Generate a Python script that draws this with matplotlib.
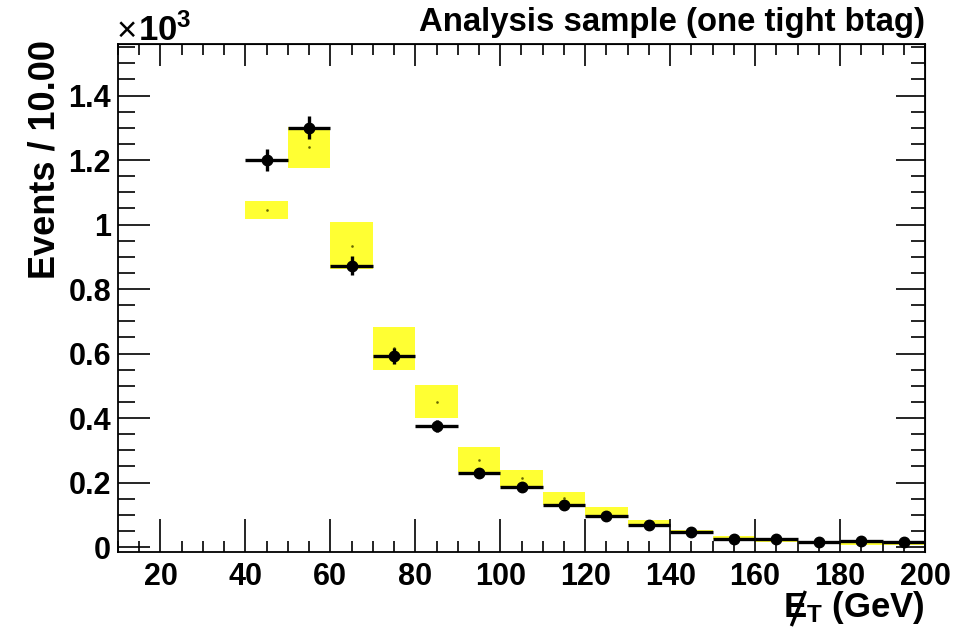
import numpy as np
import matplotlib
matplotlib.use("Agg")
import matplotlib.pyplot as plt
from matplotlib.lines import Line2D
from matplotlib.ticker import MultipleLocator, FuncFormatter

# Missing-ET distribution, 10 GeV bins from 40 to 200 GeV
bin_low = [40, 50, 60, 70, 80, 90, 100, 110, 120, 130, 140, 150, 160, 170, 180, 190]
bin_width = 10
data_counts = [1200, 1301, 872, 592, 375, 230, 187, 130, 97, 68, 45, 24, 24, 15, 19, 15]
# prediction: central value and half-size of the uncertainty band
pred_center = [1045, 1240, 935, 616, 451, 271, 213, 151, 110, 76, 49, 29, 19, 12, 10, 8]
pred_halfwidth = [29, 64, 74, 67, 52, 38, 26, 20, 14, 9, 5, 5, 5, 3, 3, 2]

family = "Liberation Sans"
plt.rcParams["font.family"] = [family, "DejaVu Sans"]
plt.rcParams["font.weight"] = "bold"
plt.rcParams["mathtext.fontset"] = "custom"
plt.rcParams["mathtext.rm"] = family + ":bold"
plt.rcParams["mathtext.bf"] = family + ":bold"
plt.rcParams["mathtext.it"] = family + ":bold"

scale = 1000.0
centers = np.array(bin_low) + bin_width / 2
data = np.array(data_counts) / scale
derr = np.sqrt(np.array(data_counts)) / scale
pc = np.array(pred_center) / scale
ph = np.array(pred_halfwidth) / scale

W, H = 973, 628
fig = plt.figure(figsize=(W / 100, H / 100), dpi=100)
ax = fig.add_axes([118 / W, 1 - 552 / H, (925 - 118) / W, (552 - 44) / H])

ax.bar(centers, 2 * ph, bottom=pc - ph, width=bin_width, color="#ffff33",
       edgecolor="none", zorder=1)
ax.plot(centers, pc, ls="none", marker="s", ms=0.8, color="#666600", zorder=2)
ax.errorbar(centers, data, xerr=bin_width / 2, yerr=derr, fmt="o", color="black",
            ms=7.5, elinewidth=2.4, capsize=0, zorder=3)

ax.set_xlim(10, 200)
ax.set_ylim(-0.0155, 1.56)

for sp in ax.spines.values():
    sp.set_linewidth(1.3)

ax.xaxis.set_major_locator(MultipleLocator(20))
ax.xaxis.set_minor_locator(MultipleLocator(5))
ax.yaxis.set_major_locator(MultipleLocator(0.2))
ax.yaxis.set_minor_locator(MultipleLocator(0.05))
ax.yaxis.set_major_formatter(FuncFormatter(lambda v, p: "%g" % round(v, 3)))
ax.tick_params(axis="x", which="major", direction="in", length=24, width=1.2,
               labelsize=22, pad=7, bottom=True, top=False)
ax.tick_params(axis="x", which="minor", direction="in", length=8, width=1.2,
               bottom=True, top=False)
ax.tick_params(axis="y", which="major", direction="in", length=23, width=1.2,
               labelsize=22, pad=5, left=True, right=False)
ax.tick_params(axis="y", which="minor", direction="in", length=12, width=1.2,
               left=True, right=False)

# ticks mirrored on the top and right frame edges
topax = ax.secondary_xaxis("top")
topax.xaxis.set_major_locator(MultipleLocator(20))
topax.xaxis.set_minor_locator(MultipleLocator(5))
topax.tick_params(which="major", direction="in", length=16, width=1.2,
                  labeltop=False)
topax.tick_params(which="minor", direction="in", length=8, width=1.2)
rightax = ax.secondary_yaxis("right")
rightax.yaxis.set_major_locator(MultipleLocator(0.2))
rightax.yaxis.set_minor_locator(MultipleLocator(0.05))
rightax.tick_params(which="major", direction="in", length=21, width=1.2,
                    labelright=False)
rightax.tick_params(which="minor", direction="in", length=10, width=1.2)

for lab in ax.get_xticklabels() + ax.get_yticklabels():
    lab.set_fontweight("bold")

fig.text(925 / W, 1 - 22 / H, "Analysis sample (one tight btag)", ha="right",
         va="center", fontsize=23.7, fontweight="bold")

# axis exponent: thin multiplication sign followed by bold 10^3
fig.canvas.draw()
times = fig.text(117 / W, 1 - 41 / H, "\u00d7", ha="left", va="baseline",
                 fontsize=25, fontweight="normal")
fig.canvas.draw()
tb = times.get_window_extent()
fig.text((tb.x1 + 1) / W, 1 - 41 / H, r"$10^{3}$", ha="left", va="baseline",
         fontsize=25)

fig.text(45 / W, 1 - 40 / H, "Events / 10.00", rotation=90, ha="center",
         va="top", fontsize=26, fontweight="bold")

# x-axis title: E_T with a slash through the E
base_y = H - 617
xl = fig.text(925 / W, base_y / H, r"$E_{T}$ (GeV)", ha="right", va="baseline",
              fontsize=25, fontweight="bold")
fig.canvas.draw()
bb = xl.get_window_extent()
x0 = bb.x0 + 2
fig.add_artist(Line2D([(x0 + 20) / W, (x0 + 6) / W],
                      [(base_y + 26) / H, (base_y - 9) / H],
                      transform=fig.transFigure, color="black", lw=2.4,
                      solid_capstyle="butt"))

fig.savefig("out.png", dpi=100)
